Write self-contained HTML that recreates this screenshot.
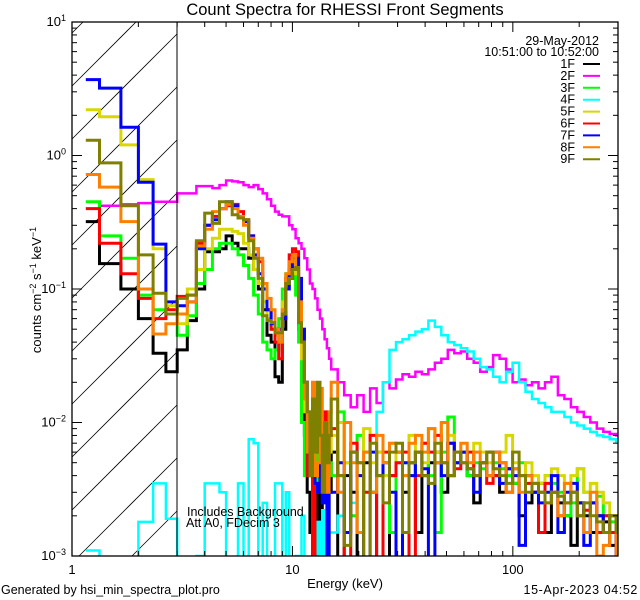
<!DOCTYPE html>
<html><head><meta charset="utf-8"><style>
html,body{margin:0;background:#fff;width:640px;height:600px;overflow:hidden;}
svg{display:block;font-family:"Liberation Sans",sans-serif;}
</style></head><body>
<svg id="chart" width="640" height="600" viewBox="0 0 640 600" xmlns="http://www.w3.org/2000/svg">
<rect width="640" height="600" fill="#fff"/>
<defs><clipPath id="plotclip"><rect x="72" y="22" width="546" height="534"/></clipPath></defs>
<text x="345" y="15" font-size="16.5" text-anchor="middle">Count Spectra for RHESSI Front Segments</text>
<g id="hatch"></g>
<g id="series" clip-path="url(#plotclip)"></g>
<g id="axes"></g>
<line x1="177" y1="22" x2="177" y2="556" stroke="#000" stroke-width="1"/>
<rect x="72" y="22" width="546" height="534" fill="none" stroke="#000" stroke-width="1.3"/>
<text transform="translate(41,290) rotate(-90)" font-size="13" text-anchor="middle">counts cm<tspan dy="-5" font-size="9">−2</tspan><tspan dy="5"> s</tspan><tspan dy="-5" font-size="9">−1</tspan><tspan dy="5"> keV</tspan><tspan dy="-5" font-size="9">−1</tspan></text>
<text x="345" y="588" font-size="13" text-anchor="middle">Energy (keV)</text>
<text x="1" y="594" font-size="12.5">Generated by hsi_min_spectra_plot.pro</text>
<text x="638" y="594" font-size="12.5" text-anchor="end" letter-spacing="0.6">15-Apr-2023 04:52</text>
<text x="599" y="45" font-size="12.5" text-anchor="end">29-May-2012</text>
<text x="599" y="56" font-size="12.5" text-anchor="end">10:51:00 to 10:52:00</text>
<text x="187" y="516" font-size="12.5">Includes Background</text>
<text x="186" y="527" font-size="12.5">Att A0, FDecim 3</text>
<g id="legend"></g>
</svg>
<script>
const seriesNames = ["1F","2F","3F","4F","5F","6F","7F","8F","9F"];
const seriesColors = ["#000000","#ff00ff","#00ff00","#00ffff","#d8d800","#ff0000","#0000ff","#ff8000","#808000"];
const xTicksMajor = [1,10,100];
const xTickLabels = ["1","10","100"];
const yTickExps = [1,0,-1,-2,-3];
// low-energy values (1-15 keV, 1/3 keV bins)
const low1F = [.32,.155,.10,.06,.033,.024,.035,.058,.10,.19,.19,.2,.25,.22,.2,.2,.17,.14,.1,.07,.045,.04,.022,.02,.05,.1,.12,.13,.12,.05,.02,.008,.003,.0015,.001,.003,.0008,.004,.0005,.002,.0006,.003];
const low2F = [null,.42,.43,.44,.45,.45,.52,.52,.59,.59,.57,.6,.65,.64,.63,.6,.58,.6,.56,.52,.47,.42,.38,.36,.35,.35,.3,.28,.24,.22,.2,.17,.14,.11,.1,.085,.07,.06,.05,.042,.036,.03];
const low3F = [.45,.25,.17,.09,.07,.065,.045,.063,.11,.14,.2,.22,.22,.2,.18,.15,.12,.09,.065,.04,.035,.03,.035,.06,.1,.13,.15,.14,.09,.04,.01,.004,.008,.012,.005,.003,.015,.004,.007,.006,.01,.005];
const low4F = [.0011,.0005,.0005,.0018,.0035,.0019,.0005,.0005,.001,.0035,.0035,.003,.0005,.0005,.0035,.0005,.0075,.007,.0005,.0025,.0005,.0005,.0035,.0035,.0005,.003,.0005,.0005,.001,.0005,.002,.0005,.0008,.0005,.0015,.0005,.0018,.0005,.0022,.0008,.0025,.0015];
const low5F = [2.2,1.95,1.2,.66,.2,.075,.055,.1,.14,.2,.24,.28,.28,.27,.26,.22,.18,.14,.11,.08,.06,.05,.045,.05,.08,.12,.16,.15,.13,.07,.03,.012,.008,.006,.012,.005,.004,.007,.003,.005,.004,.006];
const low6F = [.4,.22,.13,.085,.06,.07,.088,.09,.22,.3,.35,.4,.42,.43,.38,.33,.25,.2,.16,.1,.07,.05,.04,.03,.06,.12,.18,.2,.19,.1,.05,.02,.004,.01,.0007,.006,.015,.006,.005,.012,.004,.008];
const low7F = [3.7,3.2,1.63,.63,.217,.08,.075,.08,.2,.3,.33,.4,.45,.42,.35,.32,.25,.18,.13,.1,.07,.055,.05,.05,.06,.1,.14,.17,.17,.12,.05,.02,.006,.004,.005,.0035,.003,.005,.0025,.004,.0006,.003];
const low8F = [.72,.58,.32,.1,.046,.055,.065,.08,.21,.28,.38,.4,.43,.4,.35,.3,.24,.2,.17,.11,.085,.07,.05,.04,.07,.13,.16,.18,.14,.08,.04,.015,.006,.012,.02,.004,.005,.018,.006,.01,.003,.012];
const low9F = [1.3,.88,.42,.18,.093,.065,.085,.09,.23,.37,.31,.45,.45,.36,.34,.33,.23,.17,.12,.063,.058,.056,.047,.047,.065,.11,.12,.14,.145,.056,.04,.02,.012,.004,.015,.006,.02,.008,.003,.01,.005,.008];
// high-energy values (15-315 keV, log bins ratio 1.07)
const high1F = [.006,.0006,.004,.003,.0005,.005,.003,.0006,.0007,.004,.006,.003,.005,.0015,.004,.005,.006,.003,.004,.005,.006,.004,.0025,.005,.006,.004,.003,.0045,.0035,.002,.0025,.003,.0035,.0015,.003,.0025,.002,.0012,.0025,.002,.0015,.002,.0018,.0012,.0015];
const high2F = [.025,.02,.016,.013,.016,.012,.018,.014,.02,.018,.021,.023,.022,.024,.023,.025,.028,.03,.035,.033,.034,.03,.028,.024,.026,.032,.03,.025,.02,.021,.019,.02,.018,.02,.022,.016,.015,.013,.012,.011,.01,.009,.0085,.0082,.008];
const high3F = [.004,.012,.005,.002,.008,.006,.003,.006,.004,.0015,.006,.005,.004,.006,.007,.004,.0015,.006,.011,.005,.006,.004,.005,.0045,.004,.005,.0045,.004,.0035,.005,.004,.0035,.003,.004,.0035,.003,.002,.0025,.0045,.003,.0025,.0028,.002,.0018,.0015];
const high4F = [.0015,.002,.0008,.0025,.004,.003,.006,.012,.02,.035,.04,.042,.045,.048,.05,.058,.052,.045,.04,.038,.036,.034,.03,.026,.025,.022,.02,.024,.028,.02,.017,.015,.014,.013,.012,.012,.011,.01,.0095,.009,.0085,.008,.0078,.0075,.0072];
const high5F = [.008,.01,.005,.006,.004,.009,.005,.006,.004,.007,.005,.004,.008,.006,.005,.009,.006,.01,.008,.005,.006,.005,.007,.006,.005,.0045,.006,.008,.005,.004,.005,.004,.0035,.004,.0045,.004,.0035,.004,.0045,.003,.0035,.003,.0025,.002,.0018];
const high6F = [.009,.004,.0006,.007,.005,.003,.008,.0005,.006,.004,.005,.006,.0005,.004,.007,.006,.008,.005,.007,.0045,.005,.006,.004,.005,.0035,.004,.005,.003,.0045,.004,.0035,.003,.0015,.0035,.003,.002,.0025,.003,.002,.0022,.0025,.0015,.002,.0015,.001];
const high7F = [.003,.005,.0015,.006,.004,.0008,.006,.004,.005,.003,.0007,.005,.004,.006,.0045,.0008,.005,.004,.007,.005,.006,.0045,.003,.005,.004,.006,.0035,.0045,.004,.0012,.004,.003,.0025,.003,.004,.0015,.003,.0035,.0025,.0012,.0025,.002,.0015,.002,.001];
const high8F = [.02,.003,.01,.005,.0015,.006,.003,.008,.005,.007,.006,.004,.007,.008,.006,.009,.005,.01,.004,.006,.007,.005,.006,.005,.004,.006,.005,.003,.0045,.003,.004,.0035,.003,.0025,.003,.002,.0035,.003,.002,.0015,.003,.001,.0012,.002,.0008];
const high9F = [.015,.004,.0012,.006,.005,.0008,.007,.004,.0025,.006,.007,.0015,.005,.006,.004,.0035,.007,.005,.004,.006,.005,.0045,.004,.005,.006,.0045,.004,.0035,.006,.004,.003,.0035,.003,.0025,.003,.0028,.0025,.003,.002,.0025,.002,.0018,.0015,.002,.0015];

const lowSets=[low1F,low2F,low3F,low4F,low5F,low6F,low7F,low8F,low9F];
const highSets=[high1F,high2F,high3F,high4F,high5F,high6F,high7F,high8F,high9F];
const NS="http://www.w3.org/2000/svg";
const L=72,R=618,T=22,B=556,XMIN=1,XMAX=300,YMIN=-3,YMAX=1;
function xs(e){return L+(Math.log10(e)-Math.log10(XMIN))/(Math.log10(XMAX)-Math.log10(XMIN))*(R-L);}
function ys(v){return T+(YMAX-Math.log10(v))/(YMAX-YMIN)*(B-T);}
const edges=[];
for(let i=0;i<=42;i++)edges.push(1+i/3);
for(let k=1;k<=45;k++)edges.push(15*Math.pow(1.07,k));
function mk(tag,attrs,parent){const el=document.createElementNS(NS,tag);for(const k in attrs)el.setAttribute(k,attrs[k]);parent.appendChild(el);return el;}
const hg=document.getElementById('hatch');
const HX0=72,HX1=177;
for(let k=-4;k<14;k++){const c=86+53*k;
 let x1=HX0,y1=c,x2=HX1,y2=c-(HX1-HX0);
 if(y2>B||y1<T)continue;
 if(y1>B){x1=HX0+(c-B);y1=B;}
 if(y2<T){x2=HX0+(c-T);y2=T;}
 const ln=mk('line',{x1:x1,y1:y1,x2:x2,y2:y2,stroke:'#000','stroke-width':0.8},hg);
 
 }
const sg=document.getElementById('series');
for(let s=0;s<9;s++){
 const vals=lowSets[s].concat(highSets[s]);
 let d='',started=false;
 for(let i=0;i<vals.length;i++){
  const v=vals[i]; if(v==null)continue;
  const y=Math.min(ys(v),572);
  let x0=xs(edges[i]); const x1=Math.min(xs(edges[i+1]),R+2);
  if(x0>R+2)break;
  if(!started){ if(i===0)x0=(xs(edges[0])+xs(edges[1]))/2; d+='M'+x0.toFixed(1)+' '+y.toFixed(1); started=true;}
  else d+='L'+x0.toFixed(1)+' '+y.toFixed(1);
  d+='L'+x1.toFixed(1)+' '+y.toFixed(1);
 }
 const p=mk('path',{d:d,fill:'none',stroke:seriesColors[s],'stroke-width':(s===1||s===3)?2.5:3,'stroke-linejoin':'miter'},sg);
 
 
}
const ag=document.getElementById('axes');
for(let dec=0;dec<3;dec++){for(let m=1;m<10;m++){const e=m*Math.pow(10,dec);if(e>XMAX)break;const x=xs(e);const len=m===1?10:5;
 mk('line',{x1:x,y1:B,x2:x,y2:B-len,stroke:'#000'},ag);
 mk('line',{x1:x,y1:T,x2:x,y2:T+len,stroke:'#000'},ag);}}
for(let i=0;i<xTicksMajor.length;i++){
 const t=mk('text',{x:xs(xTicksMajor[i]),y:574,'font-size':13,'text-anchor':'middle'},ag);
 t.textContent=xTickLabels[i];
 
 }
for(let e=-3;e<1;e++){for(let m=1;m<10;m++){const v=m*Math.pow(10,e);const y=ys(v);const len=m===1?10:5;
 mk('line',{x1:L,y1:y,x2:L+len,y2:y,stroke:'#000'},ag);
 mk('line',{x1:R,y1:y,x2:R-len,y2:y,stroke:'#000'},ag);}}
for(const e of yTickExps){const y=ys(Math.pow(10,e));
 const t=mk('text',{x:66,y:y+4,'font-size':13,'text-anchor':'end'},ag);
 t.innerHTML='10<tspan dy="-5" font-size="9">'+(e<0?'−'+(-e):e)+'</tspan>';
 
 }
const lg=document.getElementById('legend');
for(let s=0;s<9;s++){const y=64+11.9*s;
 const t=mk('text',{x:575,y:y+4,'font-size':12.5,'text-anchor':'end'},lg);
 t.textContent=seriesNames[s];
 
 
 const l=mk('line',{x1:583,y1:y,x2:600,y2:y,stroke:seriesColors[s],'stroke-width':2},lg);
 
 }
</script>
</body></html>
